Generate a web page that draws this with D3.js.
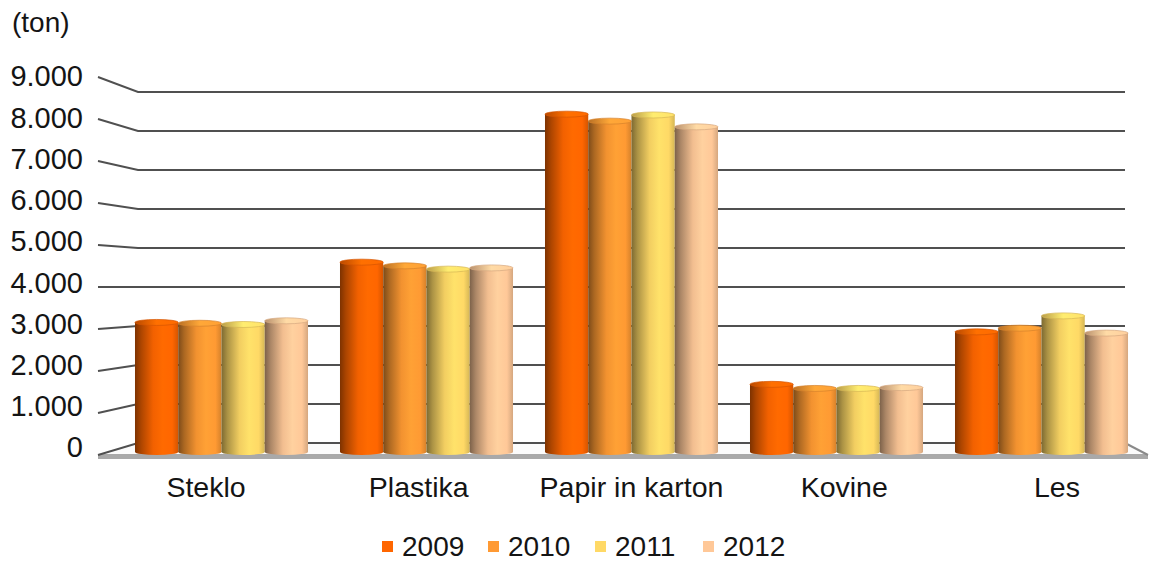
<!DOCTYPE html>
<html>
<head>
<meta charset="utf-8">
<script src="https://cdn.jsdelivr.net/npm/d3@7/dist/d3.min.js"></script>
<style>
  html, body { margin: 0; padding: 0; background: #ffffff; }
  svg { display: block; }
  text { font-family: "Liberation Sans", Arial, sans-serif; fill: #141414; }
</style>
</head>
<body>
<svg id="chart" width="1150" height="563"></svg>
<script>
// Waste collected by material, tonnes per year
const categories = ["Steklo", "Plastika", "Papir in karton", "Kovine", "Les"];
const years = ["2009", "2010", "2011", "2012"];
const values2009 = [3160, 4630, 8240, 1650, 2930];
const values2010 = [3140, 4540, 8070, 1550, 3020];
const values2011 = [3110, 4460, 8220, 1550, 3320];
const values2012 = [3200, 4490, 7930, 1570, 2900];
const tickValues = [0, 1000, 2000, 3000, 4000, 5000, 6000, 7000, 8000, 9000];
const tickLabels = ["0", "1.000", "2.000", "3.000", "4.000", "5.000", "6.000", "7.000", "8.000", "9.000"];
const unitLabel = "(ton)";

const seriesValues = [values2009, values2010, values2011, values2012];
const seriesColors = ["#ff6600", "#ff9a33", "#ffd966", "#ffc898"];

const svg = d3.select("#chart");
const defs = svg.append("defs");

// Pseudo-3D frame: back wall, front edge and the bar plane share one domain
const yBack = d3.scaleLinear().domain([0, 9000]).range([443, 92]);
const yFront = d3.scaleLinear().domain([0, 9000]).range([455, 77]);
const yBar = d3.scaleLinear().domain([0, 9000]).range([452, 83]);
const yLabel = d3.scaleLinear().domain([0, 9000]).range([447, 76]);

const backLeft = 138, backRight = 1125, frontLeft = 98, frontRight = 1148;

const x0 = d3.scaleBand().domain(categories).range([119, 1144])
  .paddingInner(0.156).paddingOuter(0.078);
const x1 = d3.scaleBand().domain(years).range([0, x0.bandwidth()]);
const xLabel = d3.scalePoint().domain(categories).range([206, 1057]);

// Floor slab
svg.append("polygon")
  .attr("points", [[frontLeft, yFront(0)], [backLeft, yBack(0)], [backRight, yBack(0)], [frontRight, yFront(0)]].join(" "))
  .attr("fill", "#fbfbfb");
svg.append("rect")
  .attr("x", frontLeft).attr("y", yFront(0) - 1)
  .attr("width", frontRight - frontLeft).attr("height", 5)
  .attr("fill", "#a9a9a9");
svg.append("line")
  .attr("x1", backRight).attr("y1", yBack(0))
  .attr("x2", frontRight).attr("y2", yFront(0))
  .attr("stroke", "#8a8a8a").attr("stroke-width", 2);

// Gridlines bent along the side wall
svg.append("g").selectAll("path")
  .data(tickValues)
  .join("path")
  .attr("d", v => `M${frontLeft},${yFront(v)}L${backLeft},${yBack(v)}L${backRight},${yBack(v)}`)
  .attr("fill", "none")
  .attr("stroke", "#505050")
  .attr("stroke-width", 1.9);

// Tick labels
svg.append("g").selectAll("text")
  .data(tickValues)
  .join("text")
  .attr("x", 83)
  .attr("y", v => yLabel(v))
  .attr("dy", "0.36em")
  .attr("text-anchor", "end")
  .attr("font-size", 29)
  .text((v, i) => tickLabels[i]);

svg.append("text")
  .attr("x", 12).attr("y", 32)
  .attr("font-size", 28)
  .text(unitLabel);

// Cylinder shading gradients
seriesColors.forEach((c, i) => {
  const base = d3.rgb(c);
  const g = defs.append("linearGradient")
    .attr("id", "cyl" + i)
    .attr("x1", "0%").attr("x2", "100%").attr("y1", "0%").attr("y2", "0%");
  const stops = [
    [0, base.darker(2.0)],
    [0.14, base.darker(1.1)],
    [0.42, base.darker(0.15)],
    [0.64, base.brighter(0.12)],
    [0.86, base],
    [1, base.darker(0.5)]
  ];
  stops.forEach(([o, col]) => g.append("stop").attr("offset", o).attr("stop-color", col.formatHex()));
  const t = defs.append("linearGradient")
    .attr("id", "cap" + i)
    .attr("x1", "0%").attr("x2", "100%").attr("y1", "0%").attr("y2", "0%");
  [[0, base.darker(0.9)], [0.5, base.brighter(0.25)], [1, base.brighter(0.1)]]
    .forEach(([o, col]) => t.append("stop").attr("offset", o).attr("stop-color", col.formatHex()));
});

// Bars as cylinders
const rows = [];
categories.forEach((cat, ci) => {
  years.forEach((yr, si) => {
    rows.push({ cat, yr, si, value: seriesValues[si][ci] });
  });
});

const ry = 3;
const bars = svg.append("g").selectAll("g")
  .data(rows)
  .join("g")
  .attr("transform", d => `translate(${x0(d.cat) + x1(d.yr)},0)`);

const w = x1.bandwidth();
bars.append("ellipse")
  .attr("cx", w / 2).attr("cy", yBar(0))
  .attr("rx", w / 2).attr("ry", ry)
  .attr("fill", d => `url(#cyl${d.si})`);
bars.append("rect")
  .attr("x", 0).attr("width", w)
  .attr("y", d => yBar(d.value))
  .attr("height", d => yBar(0) - yBar(d.value))
  .attr("fill", d => `url(#cyl${d.si})`);
bars.append("ellipse")
  .attr("cx", w / 2).attr("cy", d => yBar(d.value))
  .attr("rx", w / 2).attr("ry", ry)
  .attr("fill", d => `url(#cap${d.si})`)
  .attr("stroke", d => d3.rgb(seriesColors[d.si]).darker(0.5).formatHex())
  .attr("stroke-width", 0.7);

// Category labels on the front edge
svg.append("g").selectAll("text")
  .data(categories)
  .join("text")
  .attr("x", d => xLabel(d))
  .attr("y", 497)
  .attr("text-anchor", "middle")
  .attr("font-size", 28.5)
  .text(d => d);

// Legend
const legendX = [382, 488, 595, 703];
const legend = svg.append("g").selectAll("g")
  .data(years)
  .join("g")
  .attr("transform", (d, i) => `translate(${legendX[i]},0)`);
legend.append("rect")
  .attr("x", 0).attr("y", 541)
  .attr("width", 11).attr("height", 11)
  .attr("fill", (d, i) => seriesColors[i]);
legend.append("text")
  .attr("x", 20).attr("y", 556)
  .attr("font-size", 28)
  .text(d => d);
</script>
</body>
</html>
